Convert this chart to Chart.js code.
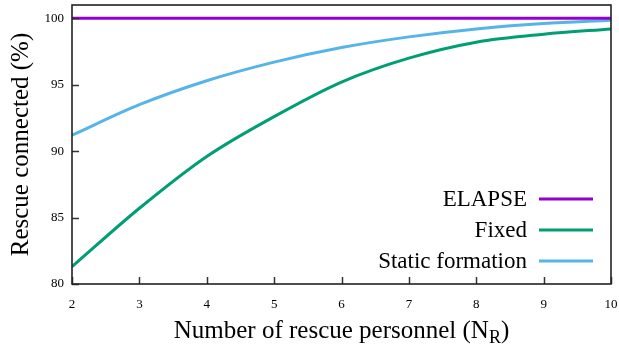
<!DOCTYPE html>
<html lang="en">
<head>
  <meta charset="UTF-8" />
  <title>Rescue connected</title>
  <style>
    body {
      background: #ffffff;
      margin: 0;
    }
    canvas {
      display: block;
    }
  </style>
  <script src="https://cdn.jsdelivr.net/npm/chart.js"></script>
</head>
<body>
  <canvas id="rescueChart" width="619" height="351"></canvas>

  <script>
    // number of rescue personnel
    const personnel = [2, 3, 4, 5, 6, 7, 8, 9, 10];

    // connected rescues, %
    const elapse = [100, 100, 100, 100, 100, 100, 100, 100, 100];
    const fixed = [81.3, 85.7, 89.6, 92.6, 95.2, 97.0, 98.2, 98.8, 99.2];
    const staticFormation = [91.2, 93.5, 95.3, 96.7, 97.8, 98.6, 99.2, 99.6, 99.85];

    const yTicks = [80, 85, 90, 95, 100];

    const serif = '"Liberation Serif", "DejaVu Serif", serif';

    const toPoints = arr => arr.map((v, i) => ({ x: personnel[i], y: v }));

    // frame, inward ticks, x title with subscript, legend on the right
    const decor = {
      id: 'decor',
      afterDraw(chart) {
        const ctx = chart.ctx;
        const a = chart.chartArea;
        const xs = chart.scales.x;
        const ys = chart.scales.y;
        ctx.save();

        // ticks pointing into the plot
        ctx.strokeStyle = '#333';
        ctx.lineWidth = 1.5;
        ctx.beginPath();
        personnel.forEach(v => {
          const px = Math.round(xs.getPixelForValue(v)) + 0.5;
          ctx.moveTo(px, a.bottom);
          ctx.lineTo(px, a.bottom - 7);
        });
        yTicks.forEach(v => {
          const py = Math.round(ys.getPixelForValue(v)) + 0.5;
          ctx.moveTo(a.left, py);
          ctx.lineTo(a.left + 7, py);
        });
        ctx.stroke();

        // border
        ctx.strokeStyle = '#222';
        ctx.lineWidth = 1.6;
        ctx.strokeRect(a.left, a.top, a.right - a.left, a.bottom - a.top);

        // x axis title: Number of rescue personnel (N_R)
        ctx.fillStyle = '#000';
        ctx.textBaseline = 'alphabetic';
        const main = 'Number of rescue personnel (N';
        const sub = 'R';
        const tail = ')';
        ctx.font = '25px ' + serif;
        const wMain = ctx.measureText(main).width;
        const wTail = ctx.measureText(tail).width;
        ctx.font = '18px ' + serif;
        const wSub = ctx.measureText(sub).width;
        const total = wMain + wSub + wTail;
        let tx = (a.left + a.right) / 2 - total / 2;
        const base = 338;
        ctx.textAlign = 'left';
        ctx.font = '25px ' + serif;
        ctx.fillText(main, tx, base);
        tx += wMain;
        ctx.font = '18px ' + serif;
        ctx.fillText(sub, tx, base + 5);
        tx += wSub;
        ctx.font = '25px ' + serif;
        ctx.fillText(tail, tx, base);

        // legend
        const rows = [199, 230, 261];
        ctx.font = '23px ' + serif;
        ctx.textAlign = 'right';
        ctx.textBaseline = 'middle';
        chart.data.datasets.forEach((ds, i) => {
          const y = rows[i];
          ctx.fillStyle = '#000';
          ctx.fillText(ds.label, 527, y + 1);
          ctx.strokeStyle = ds.borderColor;
          ctx.lineWidth = 3;
          ctx.beginPath();
          ctx.moveTo(539, y);
          ctx.lineTo(593, y);
          ctx.stroke();
        });

        ctx.restore();
      }
    };

    const ctx = document.getElementById('rescueChart').getContext('2d');
    const chart = new Chart(ctx, {
      type: 'line',
      data: {
        datasets: [
          {
            label: 'ELAPSE',
            data: toPoints(elapse),
            borderColor: '#9400d3',
            borderWidth: 3,
            pointRadius: 0,
            fill: false
          },
          {
            label: 'Fixed',
            data: toPoints(fixed),
            borderColor: '#009e73',
            borderWidth: 3,
            pointRadius: 0,
            cubicInterpolationMode: 'monotone',
            fill: false
          },
          {
            label: 'Static formation',
            data: toPoints(staticFormation),
            borderColor: '#56b4e9',
            borderWidth: 3,
            pointRadius: 0,
            cubicInterpolationMode: 'monotone',
            fill: false
          }
        ]
      },
      options: {
        responsive: false,
        animation: false,
        layout: { padding: { top: 5, right: 8, left: 0, bottom: 0 } },
        plugins: {
          legend: { display: false },
          tooltip: { enabled: false }
        },
        scales: {
          x: {
            type: 'linear',
            min: 2,
            max: 10,
            border: { display: false },
            grid: { display: false, drawTicks: false },
            ticks: {
              stepSize: 1,
              padding: 13,
              color: '#000',
              font: { family: serif, size: 13 },
              maxRotation: 0
            },
            afterFit(scale) {
              scale.height = 67;
              scale.paddingLeft = 0;
              scale.paddingRight = 0;
            }
          },
          y: {
            min: 80,
            max: 101,
            border: { display: false },
            grid: { display: false, drawTicks: false },
            ticks: {
              stepSize: 5,
              padding: 8,
              color: '#000',
              font: { family: serif, size: 13 }
            },
            afterBuildTicks(scale) {
              scale.ticks = yTicks.map(v => ({ value: v }));
            },
            afterFit(scale) {
              scale.width = 72;
              scale.paddingTop = 0;
              scale.paddingBottom = 0;
            },
            title: {
              display: true,
              text: 'Rescue connected (%)',
              color: '#000',
              font: { family: serif, size: 25 },
              padding: { top: 6, bottom: 0 }
            }
          }
        }
      },
      plugins: [decor]
    });
  </script>
</body>
</html>
